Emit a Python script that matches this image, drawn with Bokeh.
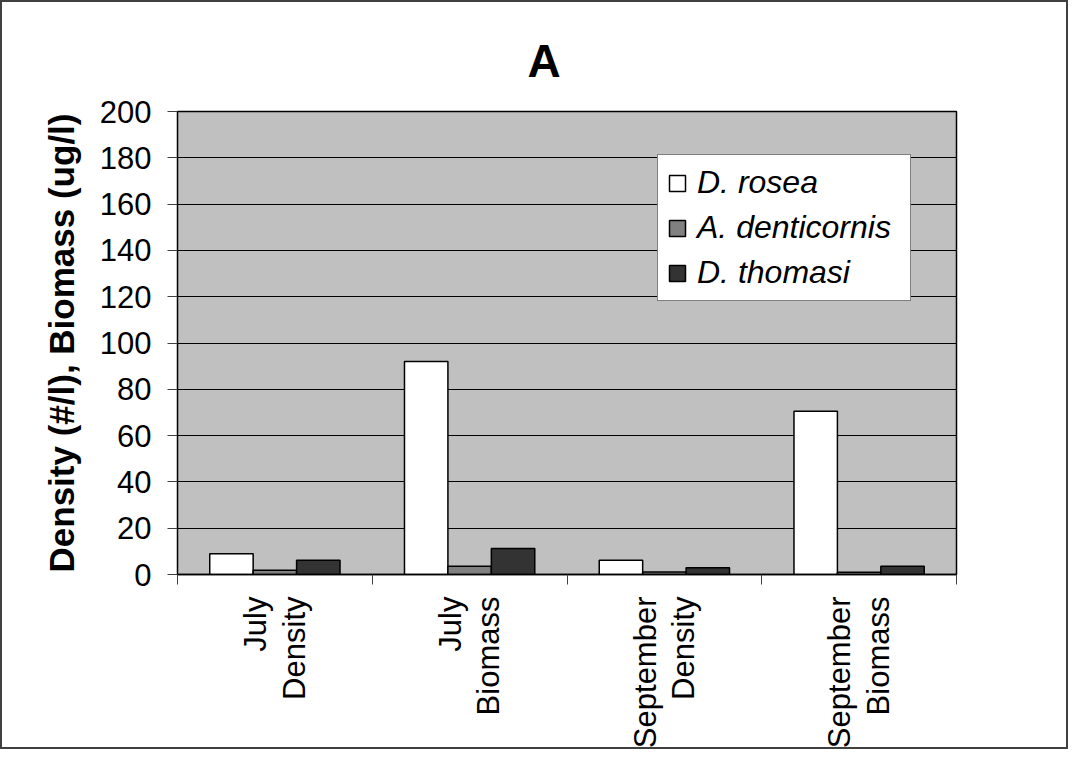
from math import pi
from bokeh.plotting import figure
from bokeh.models import Range1d, FixedTicker, Legend, LegendItem, ColumnDataSource
from bokeh.transform import dodge
from bokeh.embed import file_html
from bokeh.resources import INLINE

# ---- data ----
categories = ["July\nDensity", "July\nBiomass", "September\nDensity", "September\nBiomass"]
species = ["D. rosea", "A. denticornis", "D. thomasi"]
d_rosea = [9.0, 92.0, 6.2, 70.5]
a_denticornis = [1.8, 3.6, 1.1, 1.0]
d_thomasi = [6.2, 11.2, 2.9, 3.6]
y_ticks = [0, 20, 40, 60, 80, 100, 120, 140, 160, 180, 200]
colors = ["#ffffff", "#808080", "#333333"]

FONT = "Liberation Sans"
n_cat = len(categories)
centers = [i + 0.5 for i in range(n_cat)]
bounds = list(range(n_cat + 1))

p = figure(width=1068, height=749, x_range=Range1d(0, n_cat), y_range=Range1d(0, 200),
           output_backend="svg", toolbar_location=None, title="A",
           min_border_left=175, min_border_right=114, min_border_top=109, min_border_bottom=60,
           background_fill_color="#c0c0c0", border_fill_color="white",
           styles={"border": "2px solid #404040"})

p.title.align = "left"
p.title.text_font = FONT
p.title.text_font_size = "46px"
p.title.text_font_style = "bold"
p.title.text_color = "black"
p.title.offset = 350
p.title.standoff = 49

src = ColumnDataSource(dict(x=centers, rosea=d_rosea, dent=a_denticornis, thomasi=d_thomasi))
bw = 0.223
r1 = p.vbar(x=dodge("x", -bw, range=p.x_range), top="rosea", width=bw, source=src,
            fill_color=colors[0], line_color="black", line_width=1.5)
r2 = p.vbar(x=dodge("x", 0, range=p.x_range), top="dent", width=bw, source=src,
            fill_color=colors[1], line_color="black", line_width=1.5)
r3 = p.vbar(x=dodge("x", bw, range=p.x_range), top="thomasi", width=bw, source=src,
            fill_color=colors[2], line_color="black", line_width=1.5)

# y axis
p.yaxis.ticker = FixedTicker(ticks=y_ticks)
p.yaxis.major_tick_out = 10
p.yaxis.major_tick_in = 0
p.yaxis.minor_tick_line_color = None
p.yaxis.major_label_text_font = FONT
p.yaxis.major_label_text_font_size = "31px"
p.yaxis.major_label_text_color = "black"
p.yaxis.major_label_standoff = 16
p.yaxis.axis_label = "Density (#/l), Biomass (ug/l)"
p.yaxis.axis_label_text_font = FONT
p.yaxis.axis_label_text_font_size = "35px"
p.yaxis.axis_label_text_font_style = "bold"
p.yaxis.axis_label_text_color = "black"
p.yaxis.axis_label_standoff = 16
p.yaxis.axis_line_color = "black"
p.yaxis.major_tick_line_color = "#404040"

# x axis: labels at category centres, tick marks (minor) at category boundaries
p.xaxis.ticker = FixedTicker(ticks=centers, minor_ticks=bounds)
p.xaxis.major_label_overrides = {c: lab for c, lab in zip(centers, categories)}
p.xaxis.major_label_orientation = pi / 2
p.xaxis.major_label_text_font = FONT
p.xaxis.major_label_text_font_size = "31px"
p.xaxis.major_label_text_color = "black"
p.xaxis.major_label_text_line_height = 1.1
p.xaxis.major_label_standoff = 12
p.xaxis.major_tick_line_color = None
p.xaxis.major_tick_out = 0
p.xaxis.major_tick_in = 0
p.xaxis.minor_tick_out = 10
p.xaxis.minor_tick_in = 0
p.xaxis.minor_tick_line_color = "#404040"
p.xaxis.axis_line_color = "black"
p.xaxis.axis_line_width = 1.5

p.ygrid.ticker = FixedTicker(ticks=y_ticks)
p.ygrid.grid_line_color = "black"
p.ygrid.grid_line_width = 1
p.xgrid.grid_line_color = None
p.outline_line_color = "black"
p.outline_line_width = 1.5

legend = Legend(items=[LegendItem(label=species[0], renderers=[r1]),
                       LegendItem(label=species[1], renderers=[r2]),
                       LegendItem(label=species[2], renderers=[r3])],
                location=(480, 273))
legend.label_text_font = FONT
legend.label_text_font_size = "32px"
legend.label_text_font_style = "italic"
legend.label_text_color = "black"
legend.glyph_width = 20
legend.glyph_height = 20
legend.label_standoff = 10
legend.label_width = 204
legend.padding = 9
legend.spacing = 8
legend.margin = 0
legend.border_line_color = "black"
legend.border_line_width = 1
legend.background_fill_color = "white"
legend.background_fill_alpha = 1
p.add_layout(legend)

open("out.html", "w").write(file_html(p, INLINE))
